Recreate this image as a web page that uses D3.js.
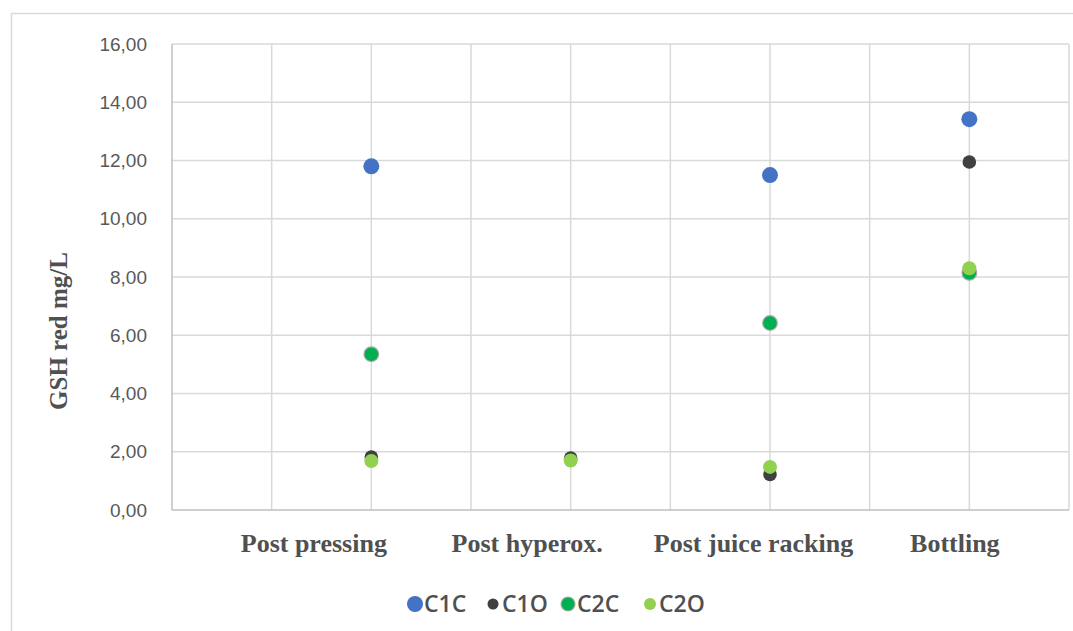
<!DOCTYPE html>
<html>
<head>
<meta charset="utf-8">
<script src="https://cdn.jsdelivr.net/npm/d3@7"></script>
<style>
body{margin:0;background:#fff;}
</style>
</head>
<body>
<svg id="chart" width="1073" height="631"></svg>
<script>
const categories = ["Post pressing", "Post hyperox.", "Post juice racking", "Bottling"];
const seriesNames = ["C1C", "C1O", "C2C", "C2O"];
const C1C = [11.80, null, 11.50, 13.42];
const C1O = [1.82, 1.78, 1.22, 11.95];
const C2C = [5.35, null, 6.42, 8.14];
const C2O = [1.68, 1.70, 1.48, 8.30];
const yTicks = [0, 2, 4, 6, 8, 10, 12, 14, 16];
const colors = ["#4472C4", "#404040", "#00B050", "#92D050"];
const strokes = ["none", "none", "#a6a6a6", "none"];
const seriesValues = [C1C, C1O, C2C, C2O];

(function () {
const svg = d3.select("#chart");
// outer chart border
svg.append("rect").attr("x", 11.5).attr("y", 13.5).attr("width", 1080).attr("height", 640)
  .attr("fill", "#fff").attr("stroke", "#d9d9d9").attr("stroke-width", 1.5);

const pLeft = 172, pRight = 1069, pTop = 44, pBottom = 510;
const x = d3.scaleLinear().domain([0, categories.length + 0.5]).range([pLeft, pRight]);
const y = d3.scaleLinear().domain([0, 16]).range([pBottom, pTop]);

// vertical gridlines every half unit
const vGrid = d3.range(0.5, categories.length + 0.51, 0.5);
svg.append("g").selectAll("line").data(vGrid).join("line")
  .attr("x1", d => x(d)).attr("x2", d => x(d)).attr("y1", pTop).attr("y2", pBottom)
  .attr("stroke", "#d9d9d9").attr("stroke-width", 1.5);
// horizontal gridlines
svg.append("g").selectAll("line").data(yTicks.filter(d => d > 0)).join("line")
  .attr("x1", pLeft).attr("x2", pRight).attr("y1", d => y(d)).attr("y2", d => y(d))
  .attr("stroke", "#d9d9d9").attr("stroke-width", 1.5);
// axes lines
svg.append("line").attr("x1", pLeft).attr("x2", pLeft).attr("y1", pTop).attr("y2", pBottom)
  .attr("stroke", "#bfbfbf").attr("stroke-width", 1.5);
svg.append("line").attr("x1", pLeft).attr("x2", pRight).attr("y1", pBottom).attr("y2", pBottom)
  .attr("stroke", "#bfbfbf").attr("stroke-width", 1.5);

// y tick labels
const fmt = d => d3.format(".2f")(d).replace(".", ",");
const yAxis = d3.axisLeft(y).tickValues(yTicks).tickFormat(fmt).tickSize(0).tickPadding(25);
const yg = svg.append("g").attr("transform", `translate(${pLeft},0)`).call(yAxis);
yg.select(".domain").remove();
yg.selectAll("text").attr("font-family", "Liberation Sans, Arial, sans-serif")
  .attr("font-size", 19).attr("fill", "#595959");

// x labels (offset left as in the original manually placed labels)
const labelShift = [-58, -44, -17, -15];
const xAxis = d3.axisBottom(x).tickValues(d3.range(1, categories.length + 1))
  .tickFormat(d => categories[d - 1]).tickSize(0).tickPadding(26);
const xg = svg.append("g").attr("transform", `translate(0,${pBottom})`).call(xAxis);
xg.select(".domain").remove();
xg.selectAll("text").attr("font-family", "Liberation Serif, Times New Roman, serif")
  .attr("font-weight", "bold").attr("font-size", 26).attr("fill", "#505050")
  .attr("dx", (d, i) => labelShift[i]).attr("dy", "0.6em");

// y title
svg.append("text").attr("transform", `translate(67,331) rotate(-90)`)
  .attr("text-anchor", "middle").attr("font-family", "Liberation Serif, Times New Roman, serif")
  .attr("font-weight", "bold").attr("font-size", 25).attr("fill", "#505050").text("GSH red mg/L");

// points
const radii = [8, 6.8, 7.3, 7];
seriesValues.forEach((vals, i) => {
  const pts = vals.map((v, j) => ({v, j})).filter(d => d.v !== null);
  svg.append("g").selectAll("circle").data(pts).join("circle")
    .attr("cx", d => x(d.j + 1)).attr("cy", d => y(d.v)).attr("r", radii[i])
    .attr("fill", colors[i]).attr("stroke", strokes[i]).attr("stroke-width", 1.2);
});

// legend
const legendX = [415, 493, 568, 650];
const legendR = [8, 5.5, 7, 6];
const lg = svg.append("g");
seriesNames.forEach((n, i) => {
  lg.append("circle").attr("cx", legendX[i]).attr("cy", 604).attr("r", legendR[i])
    .attr("fill", colors[i]).attr("stroke", strokes[i]).attr("stroke-width", 1.2);
  lg.append("text").attr("x", legendX[i] + 9).attr("y", 612)
    .attr("font-family", "Open Sans, sans-serif").attr("font-size", 23).attr("font-weight", 600)
    .attr("fill", "#505050").text(n);
});
})();
</script>
</body>
</html>
